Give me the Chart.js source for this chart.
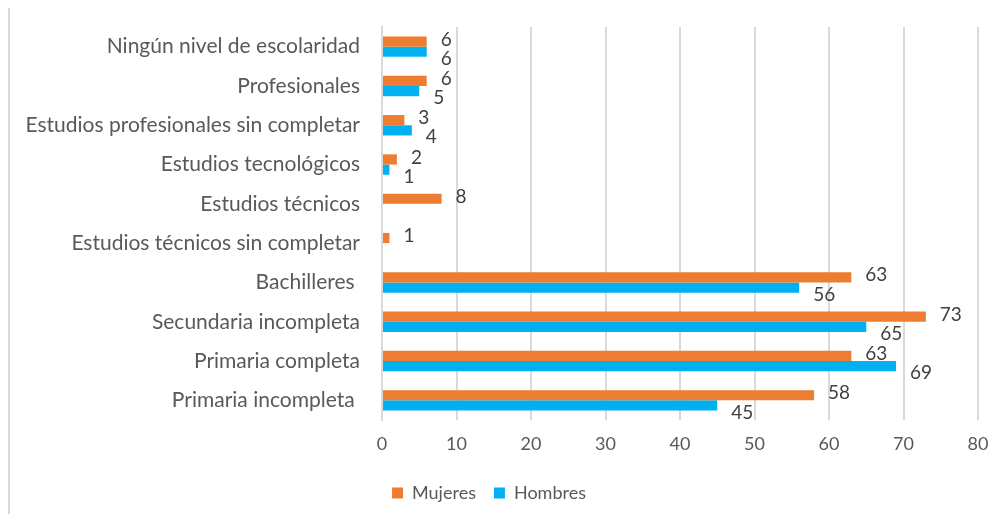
<!DOCTYPE html>
<html>
<head>
<meta charset="utf-8">
<script src="https://cdn.jsdelivr.net/npm/chart.js@4/dist/chart.umd.min.js"></script>
<style>
  html, body { margin: 0; padding: 0; background: #ffffff; }
  #wrap { position: relative; width: 990px; height: 514px; }
  #frame { position: absolute; left: 8px; top: 8px; width: 2px; height: 506px; background: #d9d9d9; }
</style>
</head>
<body>
<div id="wrap">
  <div id="frame"></div>
  <canvas id="c" width="990" height="514"></canvas>
</div>
<script>
const categories = [
  "Ningún nivel de escolaridad",
  "Profesionales",
  "Estudios profesionales sin completar",
  "Estudios tecnológicos",
  "Estudios técnicos",
  "Estudios técnicos sin completar",
  "Bachilleres ",
  "Secundaria incompleta",
  "Primaria completa",
  "Primaria incompleta "
];
const mujeres = [6, 6, 3, 2, 8, 1, 63, 73, 63, 58];
const hombres = [6, 5, 4, 1, null, null, 56, 65, 69, 45];
const xTicks = [0, 10, 20, 30, 40, 50, 60, 70, 80];

const FONT = "Lato, 'Open Sans', sans-serif";

const valueLabels = {
  id: 'valueLabels',
  afterDatasetsDraw(chart) {
    const ctx = chart.ctx;
    ctx.save();
    ctx.font = "19px " + FONT;
    ctx.fillStyle = "#404040";
    ctx.textAlign = "left";
    ctx.textBaseline = "middle";
    chart.data.datasets.forEach((ds, di) => {
      const meta = chart.getDatasetMeta(di);
      const dy = di === 0 ? -2 : 7;
      meta.data.forEach((el, i) => {
        const v = ds.data[i];
        if (v === null || v === undefined) return;
        ctx.fillText(String(v), el.x + 14, el.y + dy);
      });
    });
    ctx.restore();
  }
};

new Chart(document.getElementById('c'), {
  type: 'bar',
  data: {
    labels: categories,
    datasets: [
      { label: 'Mujeres', data: mujeres, backgroundColor: '#ED7D31', borderWidth: 0,
        categoryPercentage: 0.52, barPercentage: 1.0 },
      { label: 'Hombres', data: hombres, backgroundColor: '#00B0F0', borderWidth: 0,
        categoryPercentage: 0.52, barPercentage: 1.0 }
    ]
  },
  options: {
    indexAxis: 'y',
    responsive: false,
    animation: false,
    layout: { padding: { top: 27, right: 12, left: 0, bottom: 2 } },
    scales: {
      x: {
        min: 0, max: 80,
        afterBuildTicks(scale) { scale.ticks = xTicks.map(v => ({ value: v })); },
        ticks: { color: '#595959', font: { family: FONT, size: 18 }, padding: 13 },
        grid: { color: '#d9d9d9', lineWidth: 2, drawTicks: false },
        border: { display: false },
        afterFit(scale) { scale.height = 46; scale.paddingLeft = 0; scale.paddingRight = 0; }
      },
      y: {
        ticks: { color: '#595959', font: { family: FONT, size: 21 }, padding: 22, autoSkip: false },
        grid: { display: false, drawTicks: false },
        border: { display: true, color: '#d9d9d9', width: 2 },
        afterFit(scale) { scale.width = 382; scale.paddingTop = 0; scale.paddingBottom = 0; }
      }
    },
    plugins: {
      legend: {
        position: 'bottom',
        labels: {
          color: '#595959',
          font: { family: FONT, size: 18 },
          boxWidth: 11, boxHeight: 11, padding: 18
        }
      },
      tooltip: { enabled: false }
    }
  },
  plugins: [valueLabels]
});
</script>
</body>
</html>
